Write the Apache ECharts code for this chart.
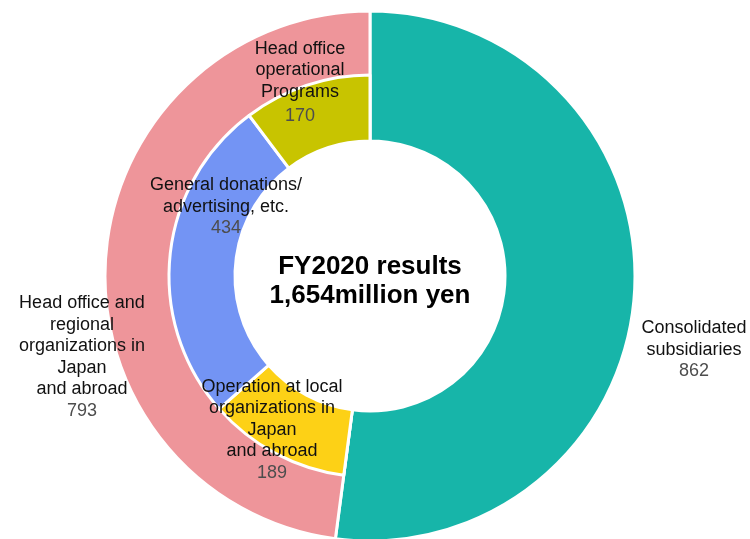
<!DOCTYPE html>
<html>
<head>
<meta charset="utf-8">
<script src="https://cdn.jsdelivr.net/npm/echarts@6/dist/echarts.min.js"></script>
<style>
  html, body { margin: 0; padding: 0; background: #fff; }
  #chart { width: 750px; height: 539px; }
</style>
</head>
<body>
<div id="chart"></div>
<script>
// FY2020 expenditure breakdown (million yen)
const outerNames = ['Consolidated\nsubsidiaries', 'Head office and\nregional\norganizations in\nJapan\nand abroad'];
const outerValues = [862, 793];
const innerNames = ['Operation at local\norganizations in\nJapan\nand abroad', 'General donations/\nadvertising, etc.', 'Head office\noperational\nPrograms'];
const innerValues = [189, 434, 170];
const centerLines = ['FY2020 results', '1,654million yen'];

// styling
const outerColors = ['#17b5a9', '#ee959a'];
const innerColors = ['#fdd116', '#7394f4', '#c8c400'];
const CX = 370, CY = 276;
// label anchor points (block centres) per slice
const outerLabelPos = [[694, 350], [82, 357]];
const innerLabelPos = [null, [272, 430], [226, 207], [300, 81]];
const FONT = 'Liberation Sans, Arial, sans-serif';

function richLabel(name, value, extraGap) {
  const lines = name.split('\n').map(l => '{n|' + l + '}');
  lines.push('{' + (extraGap ? 'vg' : 'v') + '|' + value + '}');
  return lines.join('\n');
}

const rich = {
  n: { fontFamily: FONT, fontSize: 18, lineHeight: 21.5, color: '#111', align: 'center' },
  v: { fontFamily: FONT, fontSize: 18, lineHeight: 21.5, color: '#4d4d4d', align: 'center' },
  vg: { fontFamily: FONT, fontSize: 18, lineHeight: 21.5, color: '#4d4d4d', align: 'center', padding: [5, 0, 0, 0] }
};

const outerData = outerNames.map((n, i) => ({
  name: n,
  value: outerValues[i],
  itemStyle: { color: outerColors[i] },
  label: { formatter: richLabel(n, outerValues[i], false) }
}));

// the inner ring leaves the subsidiaries sector empty so the outer slice shows through
const innerData = [{
  name: 'spacer',
  value: outerValues[0],
  itemStyle: { color: 'rgba(0,0,0,0)', borderWidth: 0 },
  label: { show: false },
  labelLine: { show: false }
}].concat(innerNames.map((n, i) => ({
  name: n,
  value: innerValues[i],
  itemStyle: { color: innerColors[i] },
  label: { formatter: richLabel(n, innerValues[i], i === 2) }
})));

const chart = echarts.init(document.getElementById('chart'), null, { renderer: 'canvas' });
chart.setOption({
  animation: false,
  series: [
    {
      type: 'pie',
      center: [CX, CY],
      radius: [135, 265],
      startAngle: 90,
      clockwise: true,
      silent: true,
      itemStyle: { borderColor: '#fff', borderWidth: 3 },
      label: { show: true, position: 'outside', overflow: 'none', rich: rich },
      labelLine: { show: false },
      labelLayout: function (p) {
        const pos = outerLabelPos[p.dataIndex];
        return { x: pos[0], y: pos[1], align: 'center', verticalAlign: 'middle' };
      },
      data: outerData
    },
    {
      type: 'pie',
      center: [CX, CY],
      radius: [135, 201],
      startAngle: 90,
      clockwise: true,
      silent: true,
      itemStyle: { borderColor: '#fff', borderWidth: 3 },
      label: { show: true, position: 'inside', overflow: 'none', rich: rich },
      labelLine: { show: false },
      labelLayout: function (p) {
        const pos = innerLabelPos[p.dataIndex];
        if (!pos) return {};
        return { x: pos[0], y: pos[1], align: 'center', verticalAlign: 'middle' };
      },
      data: innerData
    }
  ],
  graphic: [{
    type: 'text',
    x: CX,
    y: 281,
    z: 100,
    style: {
      text: centerLines.join('\n'),
      font: 'bold 26px ' + FONT,
      lineHeight: 29,
      fill: '#000',
      textAlign: 'center',
      textVerticalAlign: 'middle'
    }
  }]
});
</script>
</body>
</html>
